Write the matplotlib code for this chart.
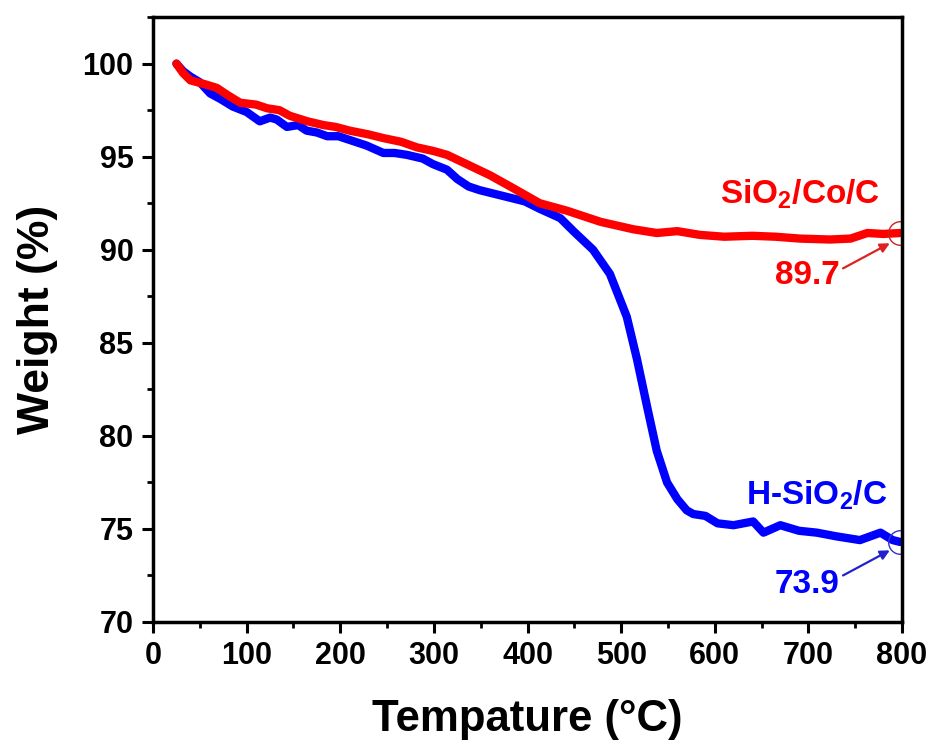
import matplotlib
matplotlib.use("Agg")
import matplotlib.pyplot as plt
from matplotlib.ticker import MultipleLocator

plt.rcParams['font.family'] = ['Liberation Sans', 'DejaVu Sans']
plt.rcParams['font.weight'] = 'bold'
plt.rcParams['mathtext.fontset'] = 'custom'
plt.rcParams['mathtext.rm'] = 'Liberation Sans:bold'
plt.rcParams['mathtext.bf'] = 'Liberation Sans:bold'

# Red: SiO2/Co/C
red_x = [25, 32, 40, 55, 68, 80, 93, 110, 122, 135, 146, 165, 182, 195, 210, 230,
         246, 265, 282, 300, 314, 335, 360, 385, 413, 442, 478, 513, 538, 560, 584,
         610, 640, 665, 691, 723, 745, 763, 780, 798]
red_y = [100.0, 99.5, 99.1, 98.9, 98.7, 98.3, 97.9, 97.8, 97.6, 97.5, 97.2, 96.9,
         96.7, 96.6, 96.4, 96.2, 96.0, 95.8, 95.5, 95.3, 95.1, 94.6, 94.0, 93.3,
         92.5, 92.1, 91.5, 91.1, 90.9, 91.0, 90.8, 90.7, 90.75, 90.7, 90.6, 90.55,
         90.6, 90.9, 90.85, 90.9]

# Blue: H-SiO2/C
blue_x = [25, 32, 40, 50, 61, 72, 85, 100, 114, 125, 132, 143, 155, 164, 175, 186,
          198, 210, 228, 246, 258, 271, 288, 299, 314, 325, 337, 349, 365, 381, 397,
          413, 435, 449, 470, 488, 506, 517, 528, 538, 549, 560, 570, 577, 590, 603,
          620, 641, 652, 670, 690, 709, 730, 755, 777, 790, 798]
blue_y = [100.0, 99.6, 99.3, 99.0, 98.4, 98.1, 97.7, 97.4, 96.9, 97.1, 97.0, 96.6,
          96.7, 96.4, 96.3, 96.1, 96.1, 95.9, 95.6, 95.2, 95.2, 95.1, 94.9, 94.6,
          94.3, 93.8, 93.4, 93.2, 93.0, 92.8, 92.6, 92.2, 91.7, 91.0, 90.0, 88.7,
          86.4, 84.1, 81.5, 79.2, 77.5, 76.6, 76.0, 75.8, 75.7, 75.3, 75.2, 75.4,
          74.8, 75.2, 74.9, 74.8, 74.6, 74.4, 74.8, 74.4, 74.3]

labels = ["SiO$_2$/Co/C", "H-SiO$_2$/C"]
end_values = ["89.7", "73.9"]
x_ticks = [0, 100, 200, 300, 400, 500, 600, 700, 800]
y_ticks = [70, 75, 80, 85, 90, 95, 100]

fig = plt.figure(figsize=(9.36, 7.44), dpi=100)
ax = fig.add_axes([0.1635, 0.164, 0.8002, 0.813])

ax.plot(blue_x, blue_y, color='#0000ff', lw=6.0, solid_joinstyle='round',
        solid_capstyle='round')
ax.plot(red_x, red_y, color='#ff0000', lw=6.0, solid_joinstyle='round',
        solid_capstyle='round')

ax.plot([blue_x[-1]], [blue_y[-1]], 'o', mfc='none', mec='#3333cc', ms=17, mew=1.0)
ax.plot([red_x[-1]], [red_y[-1]], 'o', mfc='none', mec='#cc2222', ms=17, mew=1.0)

ax.set_xlim(0, 800)
ax.set_ylim(70, 102.5)
ax.set_xticks(x_ticks)
ax.set_yticks(y_ticks)
ax.xaxis.set_minor_locator(MultipleLocator(50))
ax.yaxis.set_minor_locator(MultipleLocator(2.5))
ax.tick_params(which='major', direction='out', length=8, width=2.2, labelsize=22, pad=6)
ax.tick_params(which='minor', direction='out', length=4.5, width=2.0)
ax.tick_params(top=False, right=False, which='both')
for s in ax.spines.values():
    s.set_linewidth(2.5)
for t in ax.get_xticklabels() + ax.get_yticklabels():
    t.set_fontweight('bold')

ax.set_xlabel("Tempature (°C)", fontsize=31.5, fontweight='bold', labelpad=20)
ax.set_ylabel("Weight (%)", fontsize=32, fontweight='bold', labelpad=18)

ax.text(691, 93.0, labels[0], color='#ff0000', fontsize=24, fontweight='bold',
        ha='center', va='center')
ax.text(709, 76.8, labels[1], color='#0000ff', fontsize=24, fontweight='bold',
        ha='center', va='center')

ax.text(699, 88.6, end_values[0], color='#ff0000', fontsize=24, fontweight='bold',
        ha='center', va='center')
ax.text(699, 72.0, end_values[1], color='#0000ff', fontsize=24, fontweight='bold',
        ha='center', va='center')

ax.annotate("", xy=(787, 90.35), xytext=(737, 89.0),
            arrowprops=dict(arrowstyle='-|>', color='#dd2222', lw=1.6,
                            mutation_scale=14, shrinkA=0, shrinkB=0))
ax.annotate("", xy=(787, 73.85), xytext=(737, 72.5),
            arrowprops=dict(arrowstyle='-|>', color='#2222cc', lw=1.6,
                            mutation_scale=14, shrinkA=0, shrinkB=0))

fig.savefig("out.png", dpi=100)
